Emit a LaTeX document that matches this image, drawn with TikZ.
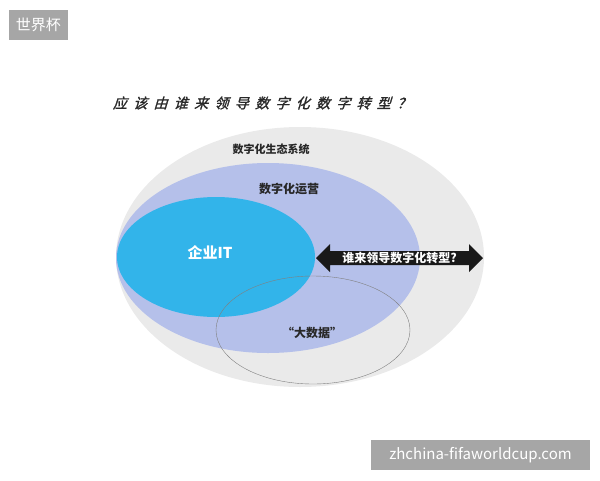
\documentclass[tikz,border=0pt]{standalone}
\usepackage{fontspec}
\setmainfont{Noto Sans CJK SC}
\newfontfamily\titlefont[FakeSlant=0.3,FakeBold=1.5,LetterSpace=45]{Noto Sans CJK SC}
\usetikzlibrary{shapes.arrows}
\definecolor{ecogray}{RGB}{234,234,234}
\definecolor{opsblue}{RGB}{181,192,234}
\definecolor{itcyan}{RGB}{50,180,234}
\definecolor{markgray}{RGB}{166,166,166}
\definecolor{inkgray}{RGB}{40,40,40}

\begin{document}
\begin{tikzpicture}[x=1pt,y=-1pt,
  lbl/.style={text=inkgray,font=\bfseries\fontsize{12}{14}\selectfont},
  wmark/.style={fill=markgray,text=white,inner sep=0pt,minimum height=30,font=\fontsize{15}{18}\selectfont}]
\useasboundingbox (0,0) rectangle (600,480);
% the three fields and the big data ring
\fill[ecogray] (300,257) ellipse [x radius=184,y radius=130];
\fill[opsblue] (268,258) ellipse [x radius=152,y radius=95];
\fill[itcyan] (216,257) ellipse [x radius=99,y radius=60];
\draw[gray,thin] (313,330) ellipse [x radius=97,y radius=54];
% labels
\node[wmark,minimum width=59] (site) at (38.5,25) {世界杯};
\node[wmark,minimum width=219] (url) at (480.5,455) {zhchina-fifaworldcup.com};
\node[text=inkgray,font=\titlefont\fontsize{14}{16}\selectfont] (title) at (262,103) {应该由谁来领导数字化数字转型？};
\node[lbl,font=\bfseries\fontsize{11}{13}\selectfont] (eco) at (271,149) {数字化生态系统};
\node[lbl] (ops) at (289,189) {数字化运营};
\node[lbl,text=white,font=\bfseries\fontsize{15}{17}\selectfont] (it) at (210,253) {企业IT};
\node[lbl] (bigdata) at (312,333) {“大数据”};
\node[double arrow,fill=black!90,lbl,text=white,inner sep=1pt,
  minimum height=167,minimum width=28,double arrow head extend=7] (lead) at (399.5,258) {谁来领导数字化转型?};
\end{tikzpicture}
\end{document}
